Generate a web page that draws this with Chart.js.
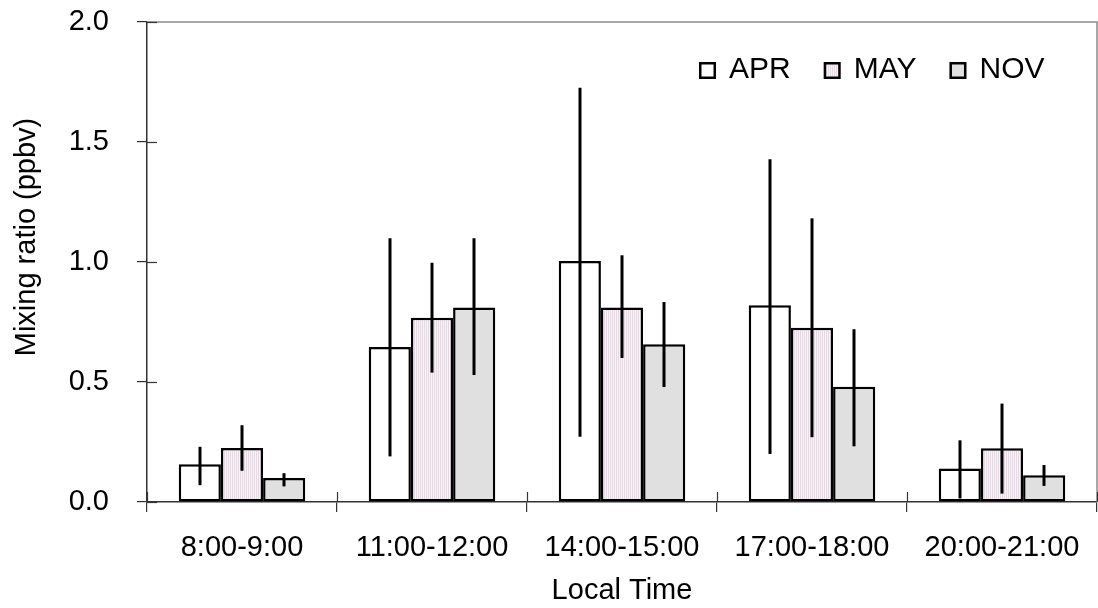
<!DOCTYPE html>
<html><head><meta charset="utf-8">
<script src="https://cdn.jsdelivr.net/npm/chart.js@4/dist/chart.umd.min.js"></script>
<style>html,body{margin:0;padding:0;background:#fff}#wrap{width:1098px;height:608px;position:relative}</style>
</head><body><div id="wrap"><canvas id="c" width="1098" height="608"></canvas></div>
<script>
const categories = ['8:00-9:00', '11:00-12:00', '14:00-15:00', '17:00-18:00', '20:00-21:00'];
const seriesLabels = ['APR', 'MAY', 'NOV'];
const aprValues = [0.157, 0.646, 1.004, 0.820, 0.140];
const aprLow    = [0.070, 0.190, 0.272, 0.200, 0.015];
const aprHigh   = [0.230, 1.099, 1.726, 1.428, 0.257];
const mayValues = [0.225, 0.768, 0.810, 0.726, 0.224];
const mayLow    = [0.130, 0.539, 0.600, 0.270, 0.035];
const mayHigh   = [0.320, 0.997, 1.028, 1.182, 0.410];
const novValues = [0.100, 0.810, 0.657, 0.480, 0.111];
const novLow    = [0.065, 0.529, 0.479, 0.232, 0.067];
const novHigh   = [0.120, 1.099, 0.833, 0.720, 0.154];
const yTickValues = [0, 0.5, 1.0, 1.5, 2.0];
const yTitle = 'Mixing ratio (ppbv)';
const xTitle = 'Local Time';

const FONT = "'Liberation Sans', Arial, sans-serif";

function stripePattern() {
  const c = document.createElement('canvas');
  c.width = 2; c.height = 2;
  const g = c.getContext('2d');
  g.fillStyle = '#e8d8e6'; g.fillRect(0, 0, 1, 2);
  g.fillStyle = '#f8f3f7'; g.fillRect(1, 0, 1, 2);
  return document.getElementById('c').getContext('2d').createPattern(c, 'repeat');
}

const datasets = [
  { label: seriesLabels[0], data: aprValues, errLow: aprLow, errHigh: aprHigh, backgroundColor: '#ffffff' },
  { label: seriesLabels[1], data: mayValues, errLow: mayLow, errHigh: mayHigh, backgroundColor: stripePattern() },
  { label: seriesLabels[2], data: novValues, errLow: novLow, errHigh: novHigh, backgroundColor: '#e0e0e0' }
].map(d => Object.assign(d, { borderColor: '#000', borderWidth: 2.5, borderSkipped: false,
  categoryPercentage: 0.666, barPercentage: 1.0 }));

const decor = {
  id: 'decor',
  beforeDatasetsDraw(chart) {
    const { ctx, chartArea: a } = chart;
    ctx.save();
    ctx.strokeStyle = '#8a8a8a'; ctx.lineWidth = 1.5;
    ctx.beginPath();
    ctx.moveTo(a.left, a.top); ctx.lineTo(a.right, a.top); ctx.lineTo(a.right, a.bottom);
    ctx.stroke();
    ctx.restore();
  },
  afterDatasetsDraw(chart) {
    const { ctx, scales: { y } } = chart;
    ctx.save();
    ctx.strokeStyle = '#000'; ctx.lineWidth = 3; ctx.lineCap = 'butt';
    chart.data.datasets.forEach((ds, di) => {
      const meta = chart.getDatasetMeta(di);
      meta.data.forEach((el, i) => {
        const x = Math.round(el.x);
        ctx.beginPath();
        ctx.moveTo(x, y.getPixelForValue(ds.errLow[i]));
        ctx.lineTo(x, y.getPixelForValue(ds.errHigh[i]));
        ctx.stroke();
      });
    });
    ctx.restore();
  },
  afterDraw(chart) {
    const { ctx, chartArea: a, scales: { x, y } } = chart;
    ctx.save();
    ctx.strokeStyle = '#333'; ctx.lineWidth = 1.2;
    yTickValues.forEach(v => {
      const py = Math.round(y.getPixelForValue(v)) + 0.5;
      ctx.beginPath(); ctx.moveTo(a.left, py); ctx.lineTo(a.left + 10, py); ctx.stroke();
    });
    for (let i = 0; i <= categories.length; i++) {
      const px = Math.round(x.getPixelForValue(i - 0.5)) + 0.5;
      ctx.beginPath(); ctx.moveTo(px, a.bottom - 10); ctx.lineTo(px, a.bottom); ctx.stroke();
    }
    ctx.fillStyle = '#000';
    ctx.font = '29px ' + FONT;
    ctx.textAlign = 'center'; ctx.textBaseline = 'middle';
    ctx.save();
    ctx.translate(27, 237); ctx.rotate(-Math.PI / 2);
    ctx.fillText(yTitle, 0, 0);
    ctx.restore();
    ctx.font = '30px ' + FONT;
    ctx.textAlign = 'left'; ctx.textBaseline = 'alphabetic';
    let cx = 699;
    const boxTop = 62, box = 17;
    chart.data.datasets.forEach(ds => {
      ctx.fillStyle = ds.backgroundColor;
      ctx.fillRect(cx, boxTop, box, box);
      ctx.strokeStyle = '#000'; ctx.lineWidth = 2.5;
      ctx.strokeRect(cx + 1.25, boxTop + 1.25, box - 2.5, box - 2.5);
      ctx.fillStyle = '#000';
      const tx = cx + box + 13;
      ctx.fillText(ds.label, tx, 77.5);
      cx = tx + ctx.measureText(ds.label).width + 33;
    });
    ctx.restore();
  }
};

new Chart(document.getElementById('c'), {
  type: 'bar',
  data: { labels: categories, datasets },
  options: {
    responsive: false, animation: false, devicePixelRatio: 1,
    layout: { padding: { top: 22, right: 1, left: 0, bottom: 0 } },
    plugins: { legend: { display: false }, tooltip: { enabled: false } },
    scales: {
      x: {
        type: 'category', offset: true,
        grid: { offset: true, drawOnChartArea: false, drawTicks: true, tickLength: 10, color: '#333', lineWidth: 1.2 },
        border: { display: true, color: '#333', width: 1.5 },
        ticks: { color: '#000', font: { family: FONT, size: 29 }, padding: 19, maxRotation: 0, autoSkip: false },
        title: { display: true, text: xTitle, color: '#000', font: { family: FONT, size: 29 }, padding: { top: 0, bottom: 0 } },
        afterFit(s) { s.height = 106; s.paddingLeft = 0; s.paddingRight = 0; }
      },
      y: {
        min: 0, max: 2,
        afterBuildTicks(s) { s.ticks = yTickValues.map(v => ({ value: v })); },
        grid: { drawOnChartArea: false, drawTicks: true, tickLength: 10, color: '#333', lineWidth: 1.2 },
        border: { display: true, color: '#333', width: 1.5 },
        ticks: { color: '#000', font: { family: FONT, size: 29 }, padding: 28, callback: v => Number(v).toFixed(1) },
        afterFit(s) { s.width = 147; s.paddingTop = 0; s.paddingBottom = 0; }
      }
    }
  },
  plugins: [decor]
});
</script></body></html>
